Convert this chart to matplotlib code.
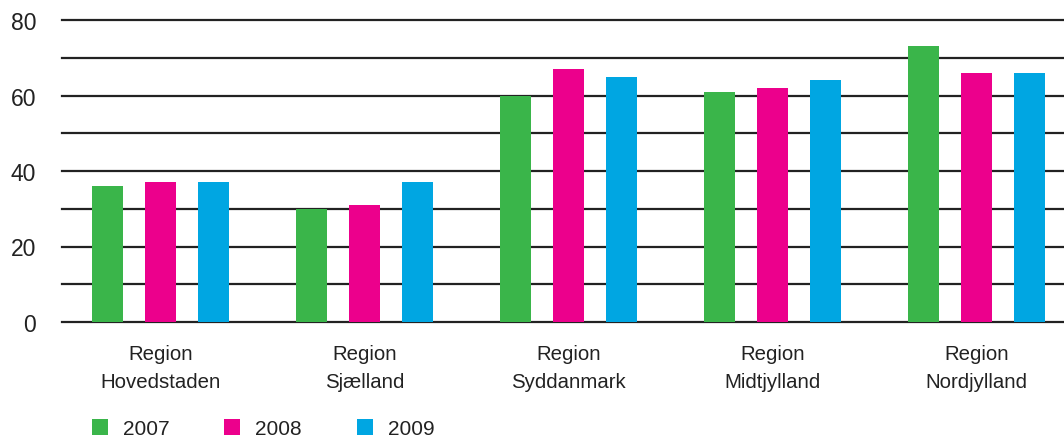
import numpy as np
import matplotlib
matplotlib.use('Agg')
import matplotlib.pyplot as plt
from matplotlib.patches import Patch
import matplotlib.ticker as ticker

plt.rcParams['font.family'] = ['Liberation Sans', 'DejaVu Sans']

regions = ['Region\nHovedstaden', 'Region\nSjælland', 'Region\nSyddanmark',
           'Region\nMidtjylland', 'Region\nNordjylland']
years = ['2007', '2008', '2009']
v2007 = [36, 30, 60, 61, 73]
v2008 = [37, 31, 67, 62, 66]
v2009 = [37, 37, 65, 64, 66]
colors = ['#3AB54A', '#EC008C', '#00A6E2']

fig = plt.figure(figsize=(10.64, 4.39), dpi=100)
ax = fig.add_axes([62/1064, 116/439, 1 - 62/1064, 302/439])

x = np.arange(len(regions))
width = 0.152
step = 0.26
for i, (vals, c) in enumerate(zip([v2007, v2008, v2009], colors)):
    ax.bar(x + (i - 1)*step, vals, width, color=c, zorder=3, linewidth=0)

ax.set_ylim(0, 80)
ax.set_xlim(-0.483, 4.429)
ax.yaxis.set_major_locator(ticker.MultipleLocator(20))
ax.yaxis.set_minor_locator(ticker.MultipleLocator(10))
ax.yaxis.grid(True, which='both', color='#222222', linewidth=1.6, zorder=1)
ax.xaxis.grid(False)
for s in ax.spines.values():
    s.set_visible(False)
ax.tick_params(axis='y', which='both', length=0, pad=18.5, labelsize=16.5, labelcolor='#222222')
ax.tick_params(axis='x', length=0, pad=16, labelsize=14.7, labelcolor='#222222')
ax.set_xticks(x)
ax.set_xticklabels(regions, linespacing=1.6)
ax.set_axisbelow(True)
for gl in ax.get_ygridlines() + ax.yaxis.get_minorticklines():
    gl.set_clip_on(False)
for t in ax.yaxis.get_major_ticks() + ax.yaxis.get_minor_ticks():
    t.gridline.set_clip_on(False)

handles = [Patch(facecolor=c, edgecolor='none') for c in colors]
fig.legend(handles, years, loc='lower left', bbox_to_anchor=(92/1064, 0.0),
           ncol=3, frameon=False, fontsize=15, handlelength=0.77, handleheight=0.77,
           handletextpad=0.72, columnspacing=2.62, borderpad=0, borderaxespad=0,
           labelcolor='#222222')

fig.savefig('out.png', dpi=100)
